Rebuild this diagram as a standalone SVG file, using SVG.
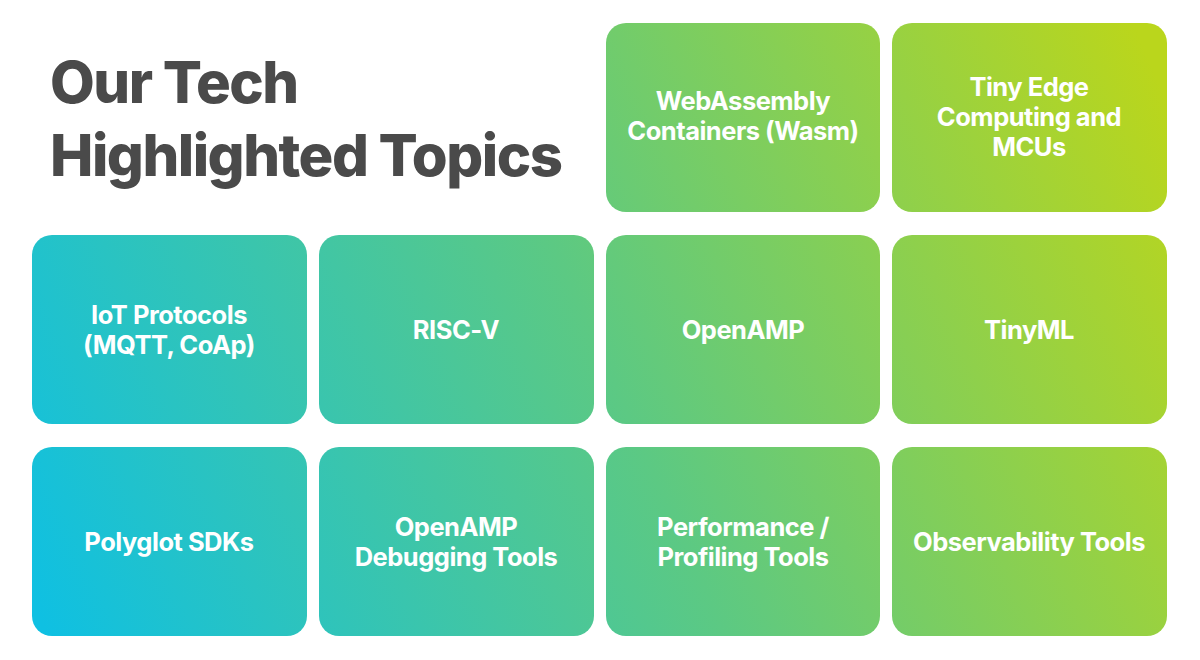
<svg xmlns="http://www.w3.org/2000/svg" width="1200" height="660" viewBox="0 0 1200 660">
<defs>
<linearGradient id="g" gradientUnits="userSpaceOnUse" x1="32" y1="600" x2="1167" y2="100">
<stop offset="0" stop-color="#0FC0E2"/>
<stop offset="0.5" stop-color="#5CC983"/>
<stop offset="1" stop-color="#BAD61C"/>
</linearGradient>
<style>
.t{fill:url(#g)}
.l{font-family:Inter,"Open Sans",sans-serif;font-weight:700;font-size:25.5px;fill:#fff;text-anchor:middle;letter-spacing:-0.5px}
.h{font-family:Inter,"Open Sans",sans-serif;font-weight:800;font-size:58px;fill:#4a4a4a;letter-spacing:-1.5px}
</style>
</defs>
<rect width="1200" height="660" fill="#fff"/>
<g id="title"><text class="h" x="50" y="103">Our Tech</text><text class="h" x="50" y="176">Highlighted Topics</text></g>
<g id="n1"><rect class="t" x="606" y="23" width="274" height="189" rx="20"/><text class="l" x="743" y="110">WebAssembly</text><text class="l" x="743" y="140">Containers (Wasm)</text></g>
<g id="n2"><rect class="t" x="892" y="23" width="275" height="189" rx="20"/><text class="l" x="1029" y="96">Tiny Edge</text><text class="l" x="1029" y="126">Computing and</text><text class="l" x="1029" y="156">MCUs</text></g>
<g id="n3"><rect class="t" x="32" y="235" width="275" height="189" rx="20"/><text class="l" x="169" y="324">IoT Protocols</text><text class="l" x="169" y="354">(MQTT, CoAp)</text></g>
<g id="n4"><rect class="t" x="319" y="235" width="275" height="189" rx="20"/><text class="l" x="456" y="339">RISC-V</text></g>
<g id="n5"><rect class="t" x="606" y="235" width="274" height="189" rx="20"/><text class="l" x="743" y="339">OpenAMP</text></g>
<g id="n6"><rect class="t" x="892" y="235" width="275" height="189" rx="20"/><text class="l" x="1029" y="339">TinyML</text></g>
<g id="n7"><rect class="t" x="32" y="447" width="275" height="189" rx="20"/><text class="l" x="169" y="551">Polyglot SDKs</text></g>
<g id="n8"><rect class="t" x="319" y="447" width="275" height="189" rx="20"/><text class="l" x="456" y="536">OpenAMP</text><text class="l" x="456" y="566">Debugging Tools</text></g>
<g id="n9"><rect class="t" x="606" y="447" width="274" height="189" rx="20"/><text class="l" x="743" y="536">Performance /</text><text class="l" x="743" y="566">Profiling Tools</text></g>
<g id="n10"><rect class="t" x="892" y="447" width="275" height="189" rx="20"/><text class="l" x="1029" y="551">Observability Tools</text></g>
<g id="connectors"/>
</svg>
